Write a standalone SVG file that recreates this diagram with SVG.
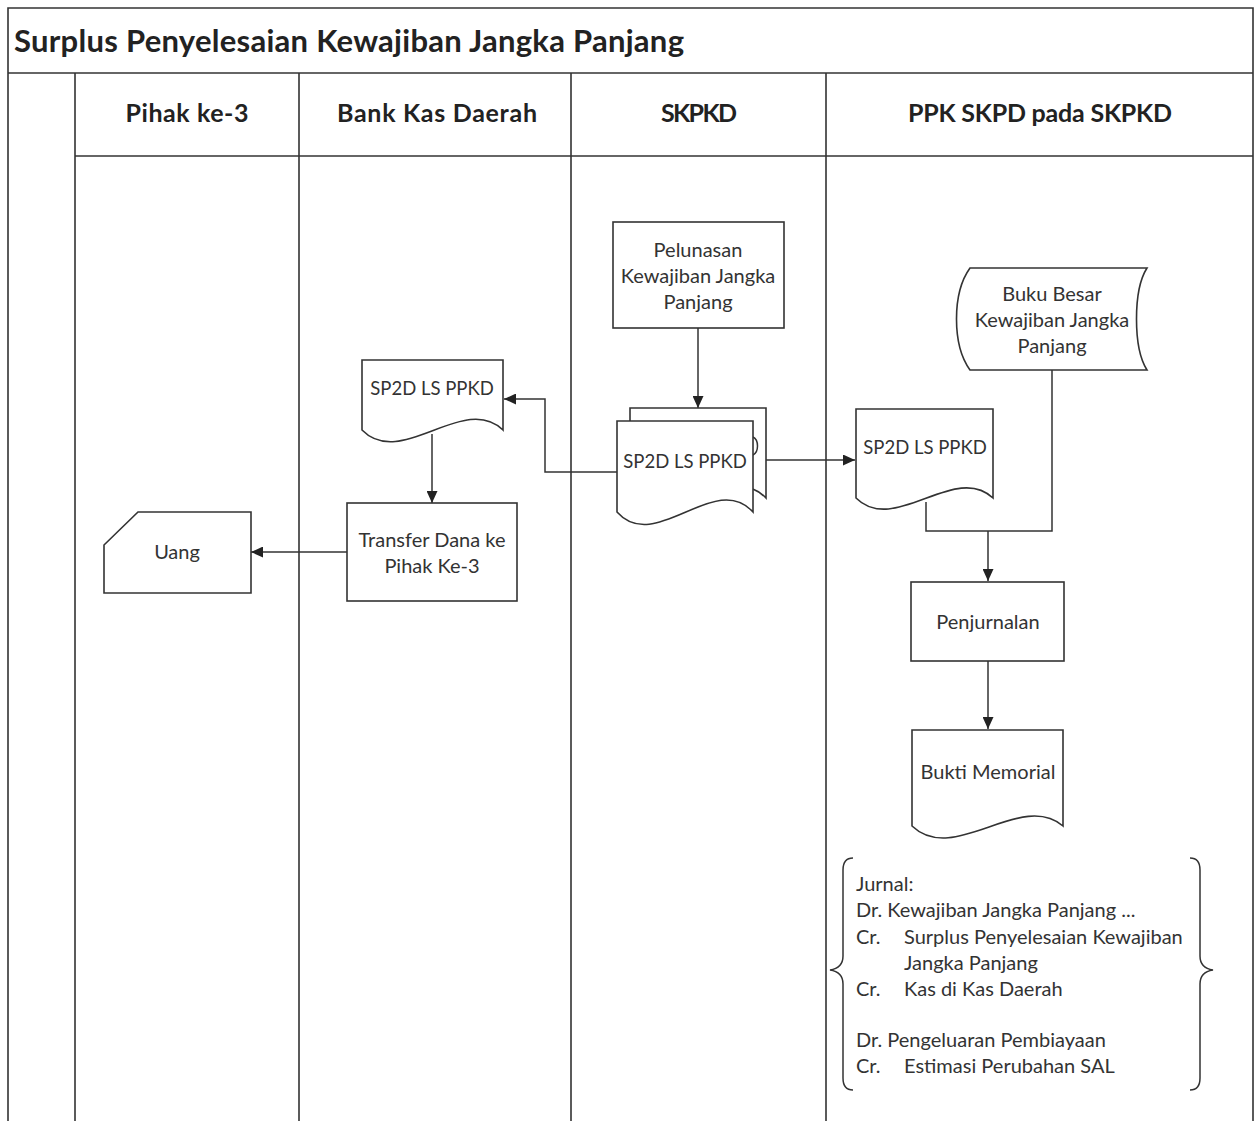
<svg xmlns="http://www.w3.org/2000/svg" width="1260" height="1121" viewBox="0 0 1260 1121">
  <defs>
    <marker id="arrow" markerUnits="userSpaceOnUse" markerWidth="12" markerHeight="11" viewBox="0 0 12 11" refX="12" refY="5.5" orient="auto">
      <path d="M0,0 L12,5.5 L0,11 Z" fill="#222"/>
    </marker>
    <style>
      .frame { fill: none; stroke: #333; stroke-width: 1.6; }
      .shape { fill: #fff; stroke: #333; stroke-width: 1.6; }
      .conn { fill: none; stroke: #333; stroke-width: 1.5; }
      .brace { fill: none; stroke: #333; stroke-width: 1.5; }
      .title { font-family: Lato, "Liberation Sans", sans-serif; font-weight: bold; font-size: 31px; fill: #222; }
      .lane { font-family: Lato, "Liberation Sans", sans-serif; font-weight: bold; font-size: 25px; fill: #222; text-anchor: middle; }
      .lbl { font-family: Lato, "Liberation Sans", sans-serif; font-size: 20px; fill: #333; text-anchor: middle; }
      .doc { font-size: 18.5px; }
      .jr { font-family: Lato, "Liberation Sans", sans-serif; font-size: 20px; fill: #333; }
    </style>
  </defs>
  <rect width="1260" height="1121" fill="#fff"/>

  <!-- swimlane frame -->
  <g id="frame">
    <path class="frame" d="M8,1121 V8 H1253 V1121"/>
    <path class="frame" d="M8,73 H1253"/>
    <path class="frame" d="M75,156 H1253"/>
    <path class="frame" d="M75,73 V1121 M299,73 V1121 M571,73 V1121 M826,73 V1121"/>
    <text class="title" x="14" y="52" textLength="670" lengthAdjust="spacing">Surplus Penyelesaian Kewajiban Jangka Panjang</text>
    <text class="lane" x="187" y="122" textLength="123" lengthAdjust="spacing">Pihak ke-3</text>
    <text class="lane" x="437" y="122" textLength="200" lengthAdjust="spacing">Bank Kas Daerah</text>
    <text class="lane" x="699" y="122" textLength="76" lengthAdjust="spacing">SKPKD</text>
    <text class="lane" x="1040" y="122" textLength="264" lengthAdjust="spacing">PPK SKPD pada SKPKD</text>
  </g>

  <!-- connectors -->
  <g id="connectors">
    <path class="conn" d="M698,328 V408" marker-end="url(#arrow)"/>
    <path class="conn" d="M617,472 H545 V399 H504" marker-end="url(#arrow)"/>
    <path class="conn" d="M753,460 H855" marker-end="url(#arrow)"/>
    <path class="conn" d="M432,434 V503" marker-end="url(#arrow)"/>
    <path class="conn" d="M347,552 H251" marker-end="url(#arrow)"/>
    <path class="conn" d="M926,502 V531 H1052 V370"/>
    <path class="conn" d="M988,531 V581" marker-end="url(#arrow)"/>
    <path class="conn" d="M988,661 V729" marker-end="url(#arrow)"/>
  </g>

  <!-- process: Pelunasan Kewajiban Jangka Panjang -->
  <g id="pelunasan">
    <rect class="shape" x="613" y="222" width="171" height="106"/>
    <text class="lbl" x="698" y="257">Pelunasan</text>
    <text class="lbl" x="698" y="283">Kewajiban Jangka</text>
    <text class="lbl" x="698" y="309">Panjang</text>
  </g>

  <!-- multi-document: SP2D LS PPKD (SKPKD) -->
  <g id="sp2d-skpkd">
    <path class="shape" d="M630,421 V408 H766 V498 C728,458 673,545 630,498 Z"/>
    <path class="conn" d="M753,437 C759,440 759,452 753,455"/>
    <path class="shape" d="M617,421 H753 V512 C715,470 655,555 617,512 Z"/>
    <text class="lbl doc" x="685" y="468">SP2D LS PPKD</text>
  </g>

  <!-- document: SP2D LS PPKD (Bank Kas Daerah) -->
  <g id="sp2d-bank">
    <path class="shape" d="M362,360 H503 V430 C464,392 401,470 362,430 Z"/>
    <text class="lbl doc" x="432" y="395">SP2D LS PPKD</text>
  </g>

  <!-- process: Transfer Dana ke Pihak Ke-3 -->
  <g id="transfer">
    <rect class="shape" x="347" y="503" width="170" height="98"/>
    <text class="lbl" x="432" y="547">Transfer Dana ke</text>
    <text class="lbl" x="432" y="573">Pihak Ke-3</text>
  </g>

  <!-- card: Uang -->
  <g id="uang">
    <path class="shape" d="M138,512 H251 V593 H104 V545 Z"/>
    <text class="lbl" x="177" y="559">Uang</text>
  </g>

  <!-- stored data: Buku Besar Kewajiban Jangka Panjang -->
  <g id="buku-besar">
    <path class="shape" d="M970,268 H1147 C1133,290 1133,348 1147,370 H970 C952,345 952,293 970,268 Z"/>
    <text class="lbl" x="1052" y="301">Buku Besar</text>
    <text class="lbl" x="1052" y="327">Kewajiban Jangka</text>
    <text class="lbl" x="1052" y="353">Panjang</text>
  </g>

  <!-- document: SP2D LS PPKD (PPK SKPD) -->
  <g id="sp2d-ppk">
    <path class="shape" d="M856,409 H993 V498 C955,462 894,536 856,498 Z"/>
    <text class="lbl doc" x="925" y="454">SP2D LS PPKD</text>
  </g>

  <!-- process: Penjurnalan -->
  <g id="penjurnalan">
    <rect class="shape" x="911" y="582" width="153" height="79"/>
    <text class="lbl" x="988" y="629">Penjurnalan</text>
  </g>

  <!-- document: Bukti Memorial -->
  <g id="bukti-memorial">
    <path class="shape" d="M912,730 H1063 V826 C1021,790 954,866 912,826 Z"/>
    <text class="lbl" x="988" y="779">Bukti Memorial</text>
  </g>

  <!-- journal annotation -->
  <g id="jurnal">
    <path class="brace" d="M853,858 Q843,858 843,870 V956 Q843,968 830,970 Q843,972 843,984 V1078 Q843,1090 853,1090"/>
    <path class="brace" d="M1190,858 Q1200,858 1200,870 V956 Q1200,968 1213,970 Q1200,972 1200,984 V1078 Q1200,1090 1190,1090"/>
    <text class="jr" x="856" y="891">Jurnal:</text>
    <text class="jr" x="856" y="917">Dr. Kewajiban Jangka Panjang ...</text>
    <text class="jr" x="856" y="944">Cr.</text>
    <text class="jr" x="904" y="944">Surplus Penyelesaian Kewajiban</text>
    <text class="jr" x="904" y="970">Jangka Panjang</text>
    <text class="jr" x="856" y="996">Cr.</text>
    <text class="jr" x="904" y="996">Kas di Kas Daerah</text>
    <text class="jr" x="856" y="1047">Dr. Pengeluaran Pembiayaan</text>
    <text class="jr" x="856" y="1073">Cr.</text>
    <text class="jr" x="904" y="1073">Estimasi Perubahan SAL</text>
  </g>
</svg>
